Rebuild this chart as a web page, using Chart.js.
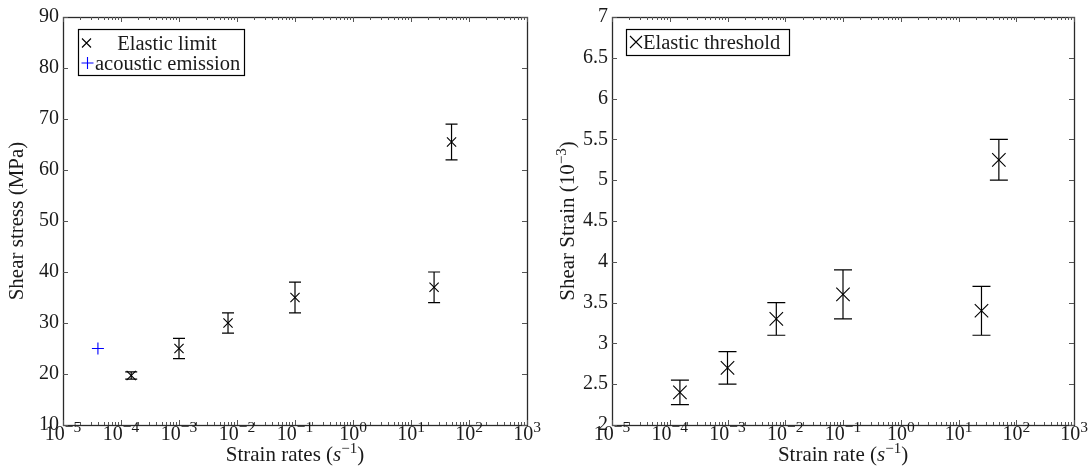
<!DOCTYPE html>
<html><head><meta charset="utf-8">
<script src="https://cdn.jsdelivr.net/npm/chart.js@4/dist/chart.umd.min.js"></script>
<style>
html,body{margin:0;padding:0;background:#fff;}
#wrap{position:relative;width:1088px;height:470px;overflow:hidden;}
.c{position:absolute;top:0;width:544px;height:470px;}
</style></head><body>
<div id="wrap">
<div class="c" style="left:0"><canvas id="left" width="544" height="470"></canvas></div>
<div class="c" style="left:544px"><canvas id="right" width="544" height="470"></canvas></div>
</div>
<script>
// ---- data ----
const strainRates   = [1.5e-4, 1e-3, 7e-3, 1e-1, 25, 50];
const stressValues  = [19.7, 25, 30, 35, 37, 65.5];
const stressErrors  = [0.7, 2, 2, 3, 3, 3.5];
const acousticRates = [4e-5];
const acousticStress = [25];
const strainValues  = [2.4, 2.7, 3.3, 3.6, 3.4, 5.25];
const strainErrors  = [0.15, 0.2, 0.2, 0.3, 0.3, 0.25];
const xTickExponents = [-5, -4, -3, -2, -1, 0, 1, 2, 3];
const leftYRange  = [10, 90, 10];
const rightYRange = [2, 7, 0.5];

const FONT = "'Liberation Serif', 'DejaVu Serif', serif";
const INK = '#1a1a1a';
const AX = '#2a2a2a';
const TITLE = 21, SUP = 15, TICK = 20, TSUP = 15.5, LEG = 20.5;

function pts(xs, ys) { return xs.map((x, i) => ({x: x, y: ys[i]})); }

function drawSupText(ctx, parts, x, y, align) {
  let w = 0;
  parts.forEach(p => { ctx.font = (p.italic ? 'italic ' : '') + p.size + 'px ' + FONT; p.w = ctx.measureText(p.t).width; w += p.w; });
  let cx = align === 'center' ? x - w / 2 : x;
  ctx.textAlign = 'left';
  ctx.textBaseline = 'alphabetic';
  parts.forEach(p => {
    ctx.font = (p.italic ? 'italic ' : '') + p.size + 'px ' + FONT;
    ctx.fillText(p.t, cx, y + (p.dy || 0));
    cx += p.w;
  });
}

function makePlugin(cfg) {
  return {
    id: 'decor',
    beforeDatasetsDraw(chart) {
      const ctx = chart.ctx, xs = chart.scales.x, ys = chart.scales.y;
      ctx.save();
      ctx.strokeStyle = '#000';
      ctx.lineWidth = 1.2;
      cfg.vals.forEach((v, i) => {
        const px = xs.getPixelForValue(cfg.rates[i]);
        const top = ys.getPixelForValue(v + cfg.errs[i]);
        const bot = ys.getPixelForValue(v - cfg.errs[i]);
        ctx.beginPath();
        ctx.moveTo(px, top); ctx.lineTo(px, bot);
        ctx.moveTo(px - cfg.cap, top); ctx.lineTo(px + cfg.cap, top);
        ctx.moveTo(px - cfg.cap, bot); ctx.lineTo(px + cfg.cap, bot);
        ctx.stroke();
      });
      ctx.restore();
    },
    afterDraw(chart) {
      const ctx = chart.ctx, a = chart.chartArea, xs = chart.scales.x, ys = chart.scales.y;
      ctx.save();
      ctx.strokeStyle = AX; ctx.lineWidth = 1.3;
      ctx.strokeRect(Math.round(a.left) + 0.5, Math.round(a.top) + 0.5, Math.round(a.right - a.left), Math.round(a.bottom - a.top));
      ctx.lineWidth = 1; ctx.strokeStyle = '#555';
      ctx.beginPath();
      xTickExponents.forEach((e, k) => {
        const px = Math.round(xs.getPixelForValue(Math.pow(10, e))) + 0.5;
        ctx.moveTo(px, a.bottom); ctx.lineTo(px, a.bottom - 5);
        ctx.moveTo(px, a.top); ctx.lineTo(px, a.top + 5);
        if (k < xTickExponents.length - 1) {
          for (let m = 2; m <= 9; m++) {
            const mx = Math.round(xs.getPixelForValue(m * Math.pow(10, e))) + 0.5;
            ctx.moveTo(mx, a.bottom); ctx.lineTo(mx, a.bottom - 3);
            ctx.moveTo(mx, a.top); ctx.lineTo(mx, a.top + 3);
          }
        }
      });
      ys.ticks.forEach(t => {
        const py = Math.round(ys.getPixelForValue(t.value)) + 0.5;
        ctx.moveTo(a.left, py); ctx.lineTo(a.left + 5, py);
        ctx.moveTo(a.right, py); ctx.lineTo(a.right - 5, py);
      });
      ctx.stroke();
      ctx.fillStyle = INK;
      xTickExponents.forEach(e => {
        const px = xs.getPixelForValue(Math.pow(10, e));
        const ex = e < 0 ? '\u2212' + (-e) : String(e);
        drawSupText(ctx, [{t: '10', size: TICK}, {t: ex, size: TSUP, dy: -8}], px, a.bottom + 15, 'center');
      });
      const cx = (a.left + a.right) / 2;
      drawSupText(ctx, [
        {t: cfg.xTitle + ' (', size: TITLE},
        {t: 's', size: TITLE, italic: true},
        {t: '\u22121', size: SUP, dy: -8},
        {t: ')', size: TITLE}
      ], cx, a.bottom + 36, 'center');
      ctx.save();
      ctx.translate(cfg.yTitleX, (a.top + a.bottom) / 2);
      ctx.rotate(-Math.PI / 2);
      drawSupText(ctx, cfg.yTitleParts, 0, 7, 'center');
      ctx.restore();
      cfg.legend(ctx);
      ctx.restore();
    }
  };
}

function baseOptions(yr, yWidth, padRight) {
  return {
    responsive: false,
    devicePixelRatio: 1,
    animation: false,
    layout: {padding: {left: 0, right: padRight, top: 17, bottom: 0}},
    plugins: {legend: {display: false}, tooltip: {enabled: false}},
    scales: {
      x: {
        type: 'logarithmic', min: 1e-5, max: 1e3,
        grid: {display: false, drawTicks: false}, border: {display: false},
        ticks: {display: false},
        afterFit(s) { s.height = 45; }
      },
      y: {
        type: 'linear', min: yr[0], max: yr[1],
        grid: {display: false, drawTicks: false}, border: {display: false},
        ticks: {stepSize: yr[2], color: INK, padding: 4, font: {family: FONT, size: TICK},
                callback: v => String(v)},
        afterFit(s) { s.width = yWidth; }
      }
    }
  };
}

// ---- left chart ----
new Chart(document.getElementById('left'), {
  type: 'scatter',
  data: {
    datasets: [
      {label: 'Elastic limit', data: pts(strainRates, stressValues), pointStyle: 'crossRot', radius: 6.5, borderColor: '#000', backgroundColor: '#000', borderWidth: 1.1},
      {label: 'acoustic emission', data: pts(acousticRates, acousticStress), pointStyle: 'cross', radius: 6, borderColor: '#0000ff', backgroundColor: '#0000ff', borderWidth: 1.1}
    ]
  },
  options: baseOptions(leftYRange, 63, 17),
  plugins: [makePlugin({
    rates: strainRates, vals: stressValues, errs: stressErrors, cap: 6,
    xTitle: 'Strain rates', yTitleX: 16,
    yTitleParts: [{t: 'Shear stress (MPa)', size: TITLE}],
    legend(ctx) {
      ctx.strokeStyle = '#000'; ctx.lineWidth = 1.2;
      ctx.strokeRect(78.5, 29.5, 166, 46);
      ctx.lineWidth = 1.1;
      ctx.beginPath();
      ctx.moveTo(82, 38.5); ctx.lineTo(91, 47.5); ctx.moveTo(91, 38.5); ctx.lineTo(82, 47.5);
      ctx.stroke();
      ctx.strokeStyle = '#0000ff';
      ctx.beginPath();
      ctx.moveTo(81.5, 63); ctx.lineTo(93.5, 63); ctx.moveTo(87.5, 57); ctx.lineTo(87.5, 69);
      ctx.stroke();
      ctx.fillStyle = INK; ctx.font = LEG + 'px ' + FONT; ctx.textBaseline = 'alphabetic';
      ctx.textAlign = 'center'; ctx.fillText('Elastic limit', 167, 50);
      ctx.textAlign = 'left'; ctx.fillText('acoustic emission', 95, 70);
    }
  })]
});

// ---- right chart ----
new Chart(document.getElementById('right'), {
  type: 'scatter',
  data: {
    datasets: [
      {label: 'Elastic threshold', data: pts(strainRates, strainValues), pointStyle: 'crossRot', radius: 9.5, borderColor: '#000', backgroundColor: '#000', borderWidth: 1.1}
    ]
  },
  options: baseOptions(rightYRange, 68, 14),
  plugins: [makePlugin({
    rates: strainRates, vals: strainValues, errs: strainErrors, cap: 9,
    xTitle: 'Strain rate', yTitleX: 23,
    yTitleParts: [{t: 'Shear Strain (10', size: TITLE}, {t: '\u22123', size: SUP, dy: -8}, {t: ')', size: TITLE}],
    legend(ctx) {
      ctx.strokeStyle = '#000'; ctx.lineWidth = 1.2;
      ctx.strokeRect(82.5, 29.5, 163, 26);
      ctx.lineWidth = 1.1;
      ctx.beginPath();
      ctx.moveTo(86, 36); ctx.lineTo(98, 48); ctx.moveTo(98, 36); ctx.lineTo(86, 48);
      ctx.stroke();
      ctx.fillStyle = INK; ctx.font = LEG + 'px ' + FONT; ctx.textBaseline = 'alphabetic';
      ctx.textAlign = 'left'; ctx.fillText('Elastic threshold', 99, 49);
    }
  })]
});
</script>
</body></html>
